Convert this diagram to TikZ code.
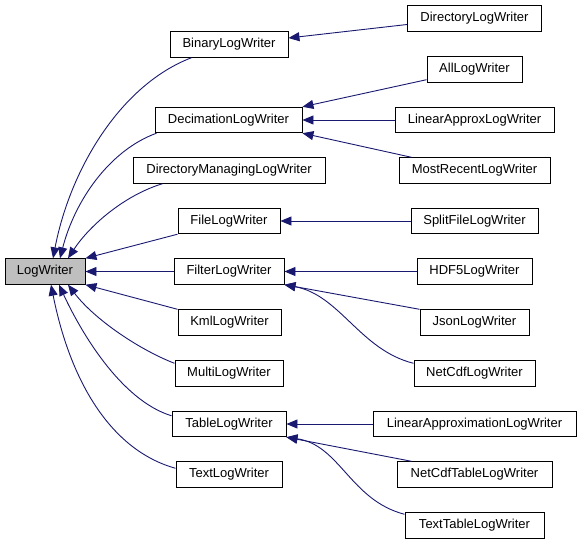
\documentclass[tikz,border=0pt]{standalone}
\usepackage{fontspec}
\setmainfont{Liberation Sans}
\usetikzlibrary{arrows.meta}
\definecolor{edgeblue}{RGB}{25,25,112}
\tikzset{
  cls/.style={draw=black, line width=0.9pt, fill=white, minimum height=25.5pt, inner sep=0pt, font=\fontsize{13}{15}\selectfont},
  inh/.style={draw=edgeblue, line width=0.9pt, -{Triangle[length=11pt,width=9pt]}},
}

\begin{document}
\begin{tikzpicture}[x=1pt,y=-1pt]
\useasboundingbox (0,0) rectangle (581,544);
% base class
\node[cls, fill=black!25, minimum width=80pt] (lw) at (45,271.5) {LogWriter};
% direct subclasses
\foreach \n/\t/\x/\y/\w in {bin/BinaryLogWriter/229/44.5/118, dec/DecimationLogWriter/228.5/120/147,
    dirman/DirectoryManagingLogWriter/229/170.5/192, file/FileLogWriter/229/221/102,
    filter/FilterLogWriter/229/271.5/110, kml/KmlLogWriter/229.5/322.5/103,
    multi/MultiLogWriter/229/373.5/108, table/TableLogWriter/229/424/114,
    text/TextLogWriter/229/474.5/106} {
  \node[cls, minimum width=\w pt] (\n) at (\x,\y) {\t};
}
% second level
\foreach \n/\t/\y/\w in {dirlog/DirectoryLogWriter/18.5/134, all/AllLogWriter/69.5/95,
    linapx/LinearApproxLogWriter/120/159, mrec/MostRecentLogWriter/170.5/151,
    split/SplitFileLogWriter/221/127, hdf/HDF5LogWriter/271.5/115,
    json/JsonLogWriter/322.5/109, ncdf/NetCdfLogWriter/373.5/121,
    linapxm/LinearApproximationLogWriter/424/203, nctab/NetCdfTableLogWriter/474.5/155,
    txttab/TextTableLogWriter/525.5/139} {
  \node[cls, minimum width=\w pt] (\n) at (474.5,\y) {\t};
}
% edges into LogWriter
\draw[inh] ([xshift=22pt]bin.south west) .. controls (120,85) and (70,170) .. ([xshift=8pt]lw.north);
\draw[inh] ([xshift=2pt]dec.south west) .. controls (110,150) and (75,200) .. ([xshift=15pt]lw.north);
\draw[inh] ([xshift=30pt]dirman.south west) .. controls (125,195) and (90,225) .. ([xshift=23pt]lw.north);
\draw[inh] (file.south west) -- (lw.north east);
\draw[inh] (filter.west) -- (lw.east);
\draw[inh] (kml.north west) -- (lw.south east);
\draw[inh] ([yshift=-3pt]multi.north west) .. controls (140,350) and (95,320) .. ([xshift=23pt]lw.south);
\draw[inh] ([yshift=-5pt]table.north west) .. controls (120,400) and (80,330) .. ([xshift=14pt]lw.south);
\draw[inh] ([yshift=-7pt]text.north west) .. controls (110,450) and (70,380) .. ([xshift=6pt]lw.south);
% second level edges
\draw[inh] ([yshift=-6pt]dirlog.west) -- ([yshift=6.5pt]bin.east);
\draw[inh] ([yshift=3pt]all.south west) -- (dec.north east);
\draw[inh] (linapx.west) -- (dec.east);
\draw[inh] ([xshift=13pt]mrec.north west) -- (dec.south east);
\draw[inh] (split.west) -- (file.east);
\draw[inh] (hdf.west) -- (filter.east);
\draw[inh] (json.north west) -- (filter.south east);
\draw[inh] ([yshift=-3pt]ncdf.north west) .. controls (360,350) and (340,295) .. (filter.south east);
\draw[inh] (linapxm.west) -- (table.east);
\draw[inh] ([xshift=15pt]nctab.north west) -- (table.south east);
\draw[inh] ([yshift=-2pt]txttab.north west) .. controls (350,500) and (340,445) .. (table.south east);
\end{tikzpicture}
\end{document}
